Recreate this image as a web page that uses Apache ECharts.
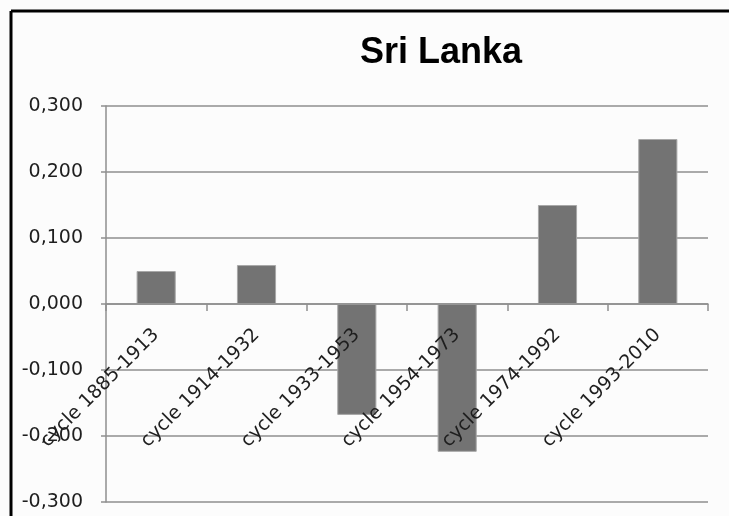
<!DOCTYPE html>
<html><head><meta charset="utf-8">
<script src="https://cdn.jsdelivr.net/npm/echarts@6/dist/echarts.min.js"></script>
<style>html,body{margin:0;padding:0;background:#fcfcfc;overflow:hidden}#c{width:729px;height:516px}</style>
</head><body><div id="c"></div>
<script>
const title = 'Sri Lanka';
const categories = ['cycle 1885-1913','cycle 1914-1932','cycle 1933-1953','cycle 1954-1973','cycle 1974-1992','cycle 1993-2010'];
const values = [0.050, 0.059, -0.168, -0.224, 0.150, 0.250];
const yTicks = [-0.3, -0.2, -0.1, 0, 0.1, 0.2, 0.3];

const chart = echarts.init(document.getElementById('c'));
const fmt = v => { const r = Math.round(v*1000)/1000; return (r===0?0:r).toFixed(3).replace('.', ','); };
const gridTop = 106, gridBottom = 14, H = 516;
const plotH = H - gridTop - gridBottom;
const yMin = yTicks[0], yMax = yTicks[yTicks.length-1];
const zeroOffset = -plotH * (0 - yMin) / (yMax - yMin);
chart.setOption({
  backgroundColor: '#fcfcfc',
  animation: false,
  title: { text: title, left: 355, top: 30,
    textStyle: { fontFamily: 'Liberation Sans', fontWeight: 'bold', fontSize: 36, color: '#000' } },
  graphic: [
    { type: 'line', shape: { x1: 11, y1: 11, x2: 760, y2: 11 }, style: { stroke: '#000', lineWidth: 3 }, z: 100 },
    { type: 'line', shape: { x1: 11, y1: 11, x2: 11, y2: 560 }, style: { stroke: '#000', lineWidth: 3 }, z: 100 }
  ],
  grid: { left: 106, right: 21, top: gridTop, bottom: gridBottom, containLabel: false, outerBoundsMode: 'none' },
  xAxis: { type: 'category', data: categories, position: 'bottom', offset: zeroOffset, z: 10,
    axisLine: { onZero: false, lineStyle: { color: '#8f8f8f', width: 1.5 } },
    axisTick: { show: true, length: 7, lineStyle: { color: '#8f8f8f', width: 1.5 } },
    axisLabel: { rotate: 45, margin: 28, interval: 0, fontFamily: 'DejaVu Sans', fontSize: 19, color: '#1e1e1e' } },
  yAxis: { type: 'value', min: yMin, max: yMax, interval: 0.1,
    axisLine: { show: true, lineStyle: { color: '#8f8f8f', width: 1.5 } },
    axisTick: { show: true, length: 5, lineStyle: { color: '#8f8f8f', width: 1.5 } },
    splitLine: { show: true, lineStyle: { color: '#8f8f8f', width: 1.5 } },
    axisLabel: { margin: 23, formatter: fmt, fontFamily: 'DejaVu Sans', fontSize: 19, color: '#1e1e1e' } },
  series: [{ type: 'bar', data: values, barWidth: '39%', z: 2,
    itemStyle: { color: '#737373', borderColor: '#a8a8a8', borderWidth: 1 } }]
});
</script></body></html>
